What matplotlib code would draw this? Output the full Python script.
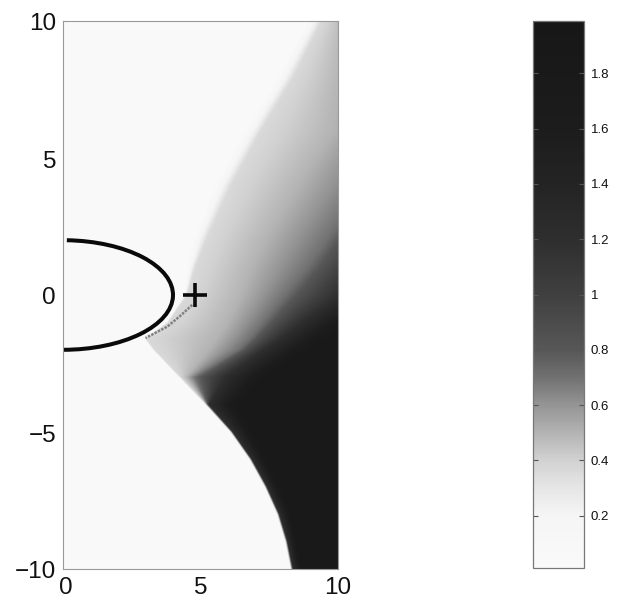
import matplotlib
matplotlib.use('Agg')
import matplotlib.pyplot as plt
import numpy as np
from matplotlib.colors import LinearSegmentedColormap, Normalize
from matplotlib.cm import ScalarMappable
from matplotlib.patches import Arc
from matplotlib.transforms import ScaledTranslation

plt.rcParams['font.family'] = ['Liberation Sans', 'DejaVu Sans']

# grey ramp
bar_values = [0.01, 0.2, 0.3, 0.4, 0.5, 0.6, 0.7, 0.8, 1.0, 1.2, 1.4, 1.6, 1.99]
bar_greys = [0.98, 0.96, 0.90, 0.82, 0.70, 0.58, 0.44, 0.34, 0.25, 0.18, 0.14, 0.11, 0.09]
bar_ticks = [0.2, 0.4, 0.6, 0.8, 1.0, 1.2, 1.4, 1.6, 1.8]
bar_labels = ['0.2', '0.4', '0.6', '0.8', '1', '1.2', '1.4', '1.6', '1.8']

# rows of the field: x where each level is reached on that row
row_y = [10, 8, 6, 4, 2, 1, 0, -1, -1.6, -2, -3, -4, -5, -6, -7, -8, -9, -10]
x_edge = [9.4, 8.4, 7.2, 6.1, 5.2, 4.8, 4.5, 3.8, 3.0, 3.3, 4.25, 5.2, 6.1, 6.8, 7.35, 7.8, 8.1, 8.3]
edge_soft = [0.5, 0.6, 0.6, 0.6, 0.5, 0.3, 0.1, 0.02, 0.02, 0.02, 0.02, 0.02, 0.02, 0.02, 0.02, 0.02, 0.02, 0.02]
x_050 = [10.3, 10.2, 9.9, 8.6, 7.4, 6.9, 6.5, 6.0, 5.6, 5.3, 4.5, 5.22, 6.12, 6.82, 7.37, 7.82, 8.12, 8.32]
x_070 = [14.0, 13.0, 12.0, 11.0, 9.6, 8.9, 8.1, 7.3, 6.8, 6.4, 4.8, 5.24, 6.14, 6.84, 7.39, 7.84, 8.14, 8.34]
x_120 = [18.0, 17.0, 16.0, 14.0, 11.8, 11.0, 10.1, 8.7, 7.9, 7.3, 5.9, 5.3, 6.16, 6.86, 7.41, 7.86, 8.16, 8.36]
x_180 = [20.0, 19.0, 18.0, 16.0, 13.8, 13.0, 12.1, 10.5, 9.6, 9.0, 7.4, 6.4, 6.9, 7.4, 7.9, 8.3, 8.5, 8.7]
light_side = 0.02
edge_value = 0.36

# dotted grey trace from the source back to the circle
trace_x = [4.7, 4.3, 3.8, 3.0]
trace_y = [-0.36, -0.73, -1.15, -1.57]
source_x = [4.8]
source_y = [0]


def make_field(nx=550, ny=1096):
    xs = np.linspace(0, 10, nx)
    ys = np.linspace(10, -10, ny)
    field = np.zeros((ny, nx))
    ry = row_y[::-1]
    for i, y in enumerate(ys):
        a = np.interp(y, ry, x_edge[::-1])
        s = np.interp(y, ry, edge_soft[::-1])
        b = np.interp(y, ry, x_050[::-1])
        c = np.interp(y, ry, x_070[::-1])
        d = np.interp(y, ry, x_120[::-1])
        e = np.interp(y, ry, x_180[::-1])
        row = np.interp(xs, [a - s, a, b, c, d, e], [light_side, edge_value, 0.5, 0.7, 1.2, 1.8])
        row[xs < a - s] = light_side
        field[i] = row
    return field


W, H = 618, 603
fig = plt.figure(figsize=(W / 100, H / 100), dpi=100)
ax = fig.add_axes([63 / W, 1 - 569 / H, 275 / W, 548 / H])
cax = fig.add_axes([533 / W, 1 - 568 / H, 51 / W, 547 / H])

cmap = LinearSegmentedColormap.from_list(
    'bar',
    [((v - bar_values[0]) / (bar_values[-1] - bar_values[0]), (g, g, g)) for v, g in zip(bar_values, bar_greys)],
)
norm = Normalize(bar_values[0], bar_values[-1])

ax.imshow(make_field(), extent=[0, 10, -10, 10], cmap=cmap, norm=norm, aspect='auto', interpolation='bilinear')

ax.plot(trace_x, trace_y, color='#808080', lw=1.8, ls=(0, (1, 0.5)))
ax.add_patch(Arc((0, 0), 8, 4, theta1=-90, theta2=86, color='#0a0a0a', lw=2.9))
ax.plot(source_x, source_y, marker='+', color='#0a0a0a', ms=17, mew=2.6, ls='none')

ax.set_xlim(0, 10)
ax.set_ylim(-10, 10)
ax.set_xticks([0, 5, 10])
ax.set_yticks([-10, -5, 0, 5, 10])
ax.tick_params(labelsize=17.5, length=0, colors='#111111')
ax.tick_params(axis='x', pad=6)
ax.tick_params(axis='y', pad=5)
# labels sit a little off their ticks in the original
fig.canvas.draw()
px = fig.dpi_scale_trans
for lab in ax.get_yticklabels():
    lab.set_transform(lab.get_transform() + ScaledTranslation(0, -1 / 100, px))
first = ax.get_xticklabels()[0]
first.set_transform(first.get_transform() + ScaledTranslation(3 / 100, 0, px))
for s in ax.spines.values():
    s.set_color('#999999')
    s.set_linewidth(0.8)

cb = fig.colorbar(ScalarMappable(norm=norm, cmap=cmap), cax=cax)
cb.set_ticks(bar_ticks)
cb.set_ticklabels(bar_labels)
cax.tick_params(left=True, right=True, direction='in', length=3.5, width=0.8, color='#555555',
                labelsize=9.5, pad=5, labelcolor='#111111')
cb.outline.set_edgecolor('#777777')
cb.outline.set_linewidth(0.9)

fig.savefig('out.png', dpi=100)
